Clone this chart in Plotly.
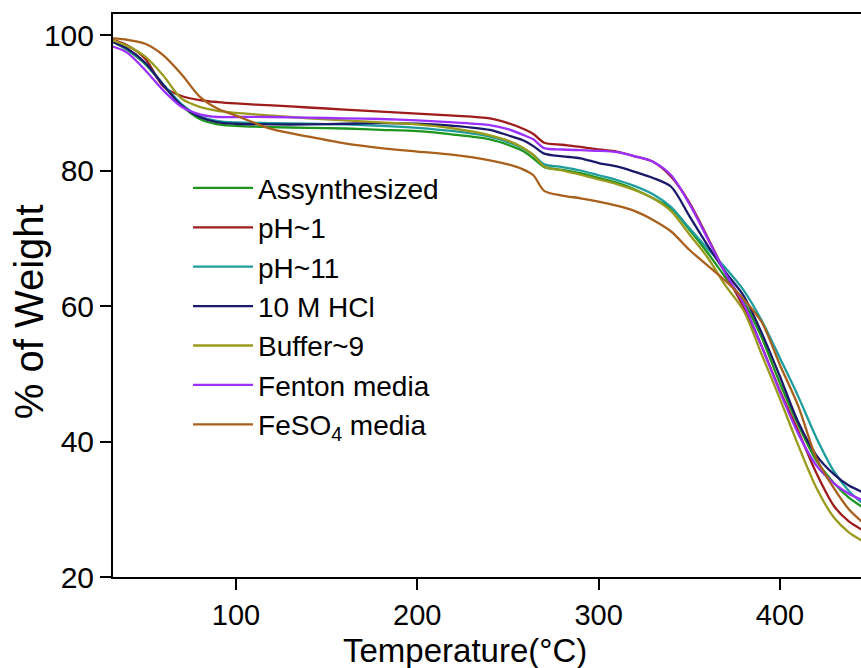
import plotly.graph_objects as go

temperature = [32, 40, 50, 60, 70, 80, 90, 100, 120, 140, 160, 180, 200, 220, 240, 250, 258, 264, 270,
               280, 290, 300, 310, 320, 330, 340, 350, 360, 370, 380, 390, 400, 410, 420, 430, 438, 445]

assynthesized = [99.1, 97.8, 95.7, 92.6, 89.6, 87.6, 86.8, 86.6, 86.4, 86.3, 86.2, 86.0, 85.8, 85.3, 84.6,
                 83.8, 82.9, 81.8, 80.5, 80.1, 79.6, 78.9, 78.2, 77.2, 75.9, 74.4, 71.3, 67.9, 64.2, 60.6,
                 55.3, 48.6, 42.5, 37.2, 33.8, 31.7, 30.4]
ph1 = [99.3, 98.5, 96.5, 92.4, 91.0, 90.4, 90.1, 89.9, 89.6, 89.3, 89.0, 88.7, 88.4, 88.1, 87.7,
       87.0, 86.2, 85.4, 84.1, 83.8, 83.5, 83.1, 82.8, 82.1, 81.3, 79.1, 75.3, 70.2, 64.8, 59.8,
       54.0, 47.5, 41.6, 35.4, 30.4, 28.2, 27.0]
ph11 = [99.0, 97.9, 95.8, 92.7, 89.8, 88.0, 87.3, 87.1, 87.0, 86.9, 86.8, 86.6, 86.3, 85.8, 85.0,
        84.2, 83.3, 82.3, 80.9, 80.5, 80.0, 79.3, 78.6, 77.7, 76.5, 74.6, 71.5, 68.5, 65.6, 62.3,
        57.8, 52.3, 46.7, 40.6, 35.5, 32.7, 31.0]
hcl10 = [99.0, 98.0, 95.9, 92.6, 89.6, 87.9, 87.1, 86.9, 86.8, 86.8, 86.9, 87.0, 86.9, 86.6, 86.0,
         85.2, 84.5, 83.6, 82.5, 82.1, 81.8, 81.1, 80.6, 79.8, 78.9, 77.6, 73.3, 69.0, 65.0, 61.5,
         56.0, 49.6, 42.9, 38.0, 35.1, 33.5, 32.6]
buffer9 = [99.2, 98.4, 96.8, 94.0, 90.6, 89.4, 88.8, 88.5, 88.1, 87.7, 87.4, 87.1, 86.8, 86.2, 85.2,
           84.4, 83.4, 82.3, 80.6, 80.0, 79.4, 78.7, 78.0, 77.1, 75.9, 74.0, 70.6, 67.2, 63.0, 59.3,
           52.8, 46.3, 39.5, 33.2, 28.7, 26.6, 25.4]
fenton = [98.3, 97.4, 94.8, 91.8, 89.4, 88.3, 87.9, 87.9, 87.9, 87.8, 87.7, 87.6, 87.4, 87.1, 86.7,
          86.1, 85.3, 84.6, 83.3, 83.1, 83.0, 82.9, 82.7, 82.1, 81.3, 79.3, 75.1, 70.0, 64.8, 60.3,
          54.0, 47.3, 41.2, 36.5, 33.8, 32.3, 31.4]
feso4 = [99.5, 99.3, 98.7, 97.0, 94.2, 90.9, 89.1, 88.1, 86.1, 85.0, 84.0, 83.3, 82.8, 82.3, 81.5,
         80.9, 80.2, 79.3, 77.0, 76.3, 75.9, 75.4, 74.8, 74.0, 72.7, 71.0, 68.3, 66.0, 63.7, 61.0,
         57.6, 51.3, 45.3, 37.6, 33.0, 30.0, 28.2]

series_names = ["Assynthesized", "pH~1", "pH~11", "10 M HCl", "Buffer~9", "Fenton media",
                "FeSO<sub>4</sub> media"]
series_values = [assynthesized, ph1, ph11, hcl10, buffer9, fenton, feso4]
series_colors = ["#1e961e", "#9e1c1c", "#1f9c9c", "#1a1a6b", "#9a9a1c", "#9b30ff", "#a8601c"]

x_ticks = [100, 200, 300, 400]
y_ticks = [20, 40, 60, 80, 100]

font_family = "Liberation Sans, Arial, sans-serif"

fig = go.Figure()
for name, vals, col in zip(series_names, series_values, series_colors):
    fig.add_trace(go.Scatter(
        x=temperature, y=vals, mode="lines", name=name,
        line=dict(color=col, width=2.3, shape="spline", smoothing=0.8),
        legendgroup=name,
    ))

fig.update_layout(
    width=861, height=668,
    margin=dict(l=113, r=0, t=14, b=91),
    paper_bgcolor="white", plot_bgcolor="white",
    font=dict(family=font_family, color="black"),
    showlegend=True,
    legend=dict(
        x=0.1003, y=0.735, xanchor="left", yanchor="top",
        bgcolor="rgba(0,0,0,0)", borderwidth=0,
        font=dict(size=28, family=font_family),
        itemwidth=60, tracegroupgap=0,
    ),
    xaxis=dict(
        range=[32.2, 444.7], tickvals=x_ticks, ticks="outside", ticklen=11, tickwidth=2,
        tickcolor="black", showline=True, linewidth=2, linecolor="black", mirror=True,
        showgrid=False, zeroline=False, tickfont=dict(size=29), ticklabelstandoff=0,
    ),
    yaxis=dict(
        range=[20, 103.1], tickvals=y_ticks, ticks="outside", ticklen=11, tickwidth=2,
        tickcolor="black", showline=True, linewidth=2, linecolor="black", mirror=False,
        showgrid=False, zeroline=False, tickfont=dict(size=30),
    ),
    annotations=[
        dict(text="Temperature(°C)", xref="paper", yref="paper", x=0.4706, y=-0.131,
             xanchor="center", yanchor="middle", showarrow=False, font=dict(size=33)),
        dict(text="% of Weight", xref="paper", yref="paper", x=-0.112, y=0.4707,
             xanchor="center", yanchor="middle", showarrow=False, textangle=-90,
             font=dict(size=40)),
    ],
)

fig.write_html("out.html")
